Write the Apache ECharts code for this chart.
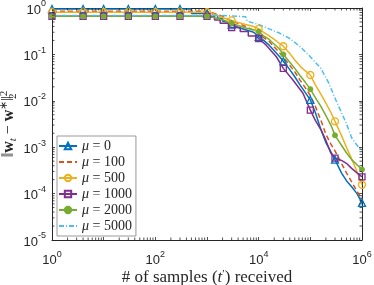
<!DOCTYPE html>
<html><head><meta charset="utf-8">
<script src="https://cdn.jsdelivr.net/npm/echarts@6/dist/echarts.min.js"></script>
<style>html,body{margin:0;padding:0;background:#fff}#c{width:374px;height:285px}</style>
</head><body><div id="c"></div>
<script>
// ---- data ----
const legendNames = ['μ = 0', 'μ = 100', 'μ = 500', 'μ = 1000', 'μ = 2000', 'μ = 5000'];
const markerSamples = [1, 4, 10, 30, 100, 300, 1000, 3000, 10000, 30000, 100000, 300000, 1000000];
const xTickLabels = ['10^0', '10^2', '10^4', '10^6'];

const t_mu0 = [1,4,10,30,100,300,500,500,1000,1250,1250,1600,1600,2000,2000,2500,3000,4000,5600,8000,10000,12500,16000,20000,25000,30000,40000,50000,63000,80000,100000,125000,160000,200000,250000,300000,400000,500000,630000,800000,1000000];
const v_mu0 = [0.95,0.95,0.95,0.95,0.95,0.95,0.95,0.76,0.76,0.76,0.69,0.69,0.60,0.60,0.52,0.50,0.44,0.38,0.34,0.30,0.24,0.20,0.158,0.12,0.091,0.071,0.047,0.033,0.022,0.015,0.0105,0.0056,0.0024,0.00126,0.00079,0.00054,0.00028,0.00019,0.00014,0.0001,0.000063];

const t_mu100 = [1,1000,1250,2000,3000,4000,5600,8000,10000,12500,16000,20000,25000,30000,40000,50000,63000,80000,100000,125000,160000,200000,250000,300000,400000,500000,630000,800000,1000000];
const v_mu100 = [0.85,0.85,0.79,0.66,0.52,0.47,0.40,0.33,0.28,0.23,0.19,0.145,0.11,0.087,0.058,0.042,0.028,0.019,0.013,0.0076,0.0038,0.0019,0.00117,0.00083,0.00045,0.00028,0.00018,0.000112,0.000076];

const t_mu500 = [1,4,10,30,100,300,1000,1250,1600,2200,3000,4000,5600,8000,10000,12500,16000,20000,25000,30000,40000,50000,63000,80000,100000,125000,160000,200000,250000,300000,400000,500000,630000,800000,1000000];
const v_mu500 = [0.81,0.81,0.81,0.81,0.81,0.81,0.81,0.76,0.69,0.60,0.54,0.49,0.44,0.40,0.355,0.30,0.25,0.21,0.174,0.15,0.105,0.076,0.056,0.044,0.036,0.022,0.014,0.0089,0.0056,0.0036,0.0018,0.001,0.00056,0.0003,0.000155];

const t_mu1000 = [1,4,10,30,100,300,1000,1400,1400,1800,1800,2600,2600,3000,4400,4400,6300,6300,8500,10000,14000,22000,30000,46000,72000,100000,125000,160000,200000,250000,300000,400000,500000,630000,800000,1000000];
const v_mu1000 = [0.66,0.66,0.66,0.66,0.66,0.66,0.66,0.66,0.55,0.55,0.47,0.47,0.40,0.38,0.38,0.31,0.31,0.25,0.25,0.22,0.158,0.089,0.05,0.028,0.0145,0.0063,0.0038,0.0024,0.0014,0.00074,0.00058,0.00052,0.00045,0.00035,0.00028,0.00023];

const t_mu2000 = [1,4,10,30,100,300,1000,1250,2000,3000,4000,5600,8000,10000,12500,16000,20000,25000,30000,40000,50000,63000,80000,100000,125000,160000,200000,250000,300000,400000,500000,630000,800000,1000000];
const v_mu2000 = [0.66,0.66,0.66,0.66,0.66,0.66,0.66,0.63,0.56,0.47,0.42,0.37,0.34,0.31,0.25,0.21,0.166,0.132,0.10,0.068,0.05,0.035,0.025,0.0178,0.0117,0.0076,0.0048,0.003,0.0018,0.0011,0.00076,0.00054,0.00042,0.00033];

const t_mu5000 = [1,2000,2000,5600,6000,10000,16000,25000,40000,63000,100000,160000,224000,316000,400000,500000,630000,800000,1000000];
const v_mu5000 = [0.69,0.69,0.65,0.65,0.52,0.44,0.355,0.29,0.22,0.148,0.089,0.05,0.025,0.01,0.0056,0.0032,0.0016,0.0011,0.00083];

// ---- styling ----
const FG = '#262626';
const SERIF = 'Liberation Serif';
const SANS = 'Liberation Sans';
const XMIN = 1, XMAX = 1e6, YMIN = 1e-5, YMAX = 1;

function buildData(ts, vs, withMarkers) {
  const used = {};
  return ts.map((t, i) => {
    const item = { value: [t, vs[i]] };
    if (!withMarkers || markerSamples.indexOf(t) < 0 || used[t]) item.symbol = 'none';
    else used[t] = true;
    return item;
  });
}

const seriesDefs = [
  { name: legendNames[0], t: t_mu0, v: v_mu0, color: '#0072BD', symbol: 'triangle', size: 7, hollow: true, dash: 'solid' },
  { name: legendNames[1], t: t_mu100, v: v_mu100, color: '#D95319', symbol: 'none', dash: [5, 3] },
  { name: legendNames[2], t: t_mu500, v: v_mu500, color: '#EDB120', symbol: 'circle', size: 7, hollow: true, dash: 'solid' },
  { name: legendNames[3], t: t_mu1000, v: v_mu1000, color: '#7E2F8E', symbol: 'rect', size: 6, hollow: true, dash: 'solid' },
  { name: legendNames[4], t: t_mu2000, v: v_mu2000, color: '#77AC30', symbol: 'circle', size: 5, hollow: false, dash: 'solid' },
  { name: legendNames[5], t: t_mu5000, v: v_mu5000, color: '#4DBEEE', symbol: 'none', dash: [5, 2, 1, 2] }
];

const series = seriesDefs.map(d => ({
  name: d.name,
  type: 'line',
  data: buildData(d.t, d.v, d.symbol !== 'none'),
  symbol: d.symbol,
  symbolSize: d.size || 6,
  showSymbol: d.symbol !== 'none',
  lineStyle: { color: d.color, width: 1.5, type: d.dash },
  itemStyle: d.symbol === 'none' ? { color: d.color } :
    (d.hollow ? { color: 'rgba(255,255,255,0)', borderColor: d.color, borderWidth: 1.3 }
              : { color: d.color, borderColor: d.color, borderWidth: 1 }),
  color: d.color,
  animation: false,
  silent: true,
  emphasis: { disabled: true }
}));

// minor ticks of the log axes (axis decoration)
const xMinor = [];
for (let e = 0; e < 6; e++) for (let k = 2; k <= 9; k++) xMinor.push(k * Math.pow(10, e));
const yMinor = [];
for (let e = -5; e < 0; e++) for (let k = 2; k <= 9; k++) yMinor.push(k * Math.pow(10, e));
const TL = 2.5;
series.push({
  type: 'custom', silent: true, animation: false, z: 5,
  data: xMinor.map(v => [v, 1]),
  encode: { x: 0, y: 1 },
  renderItem: function (p, api) {
    const v = api.value(0);
    const b = api.coord([v, YMIN]), t = api.coord([v, YMAX]);
    return { type: 'group', children: [
      { type: 'line', shape: { x1: b[0], y1: b[1], x2: b[0], y2: b[1] - TL }, style: { stroke: FG, lineWidth: 0.8 } },
      { type: 'line', shape: { x1: t[0], y1: t[1], x2: t[0], y2: t[1] + TL }, style: { stroke: FG, lineWidth: 0.8 } }
    ] };
  }
});
series.push({
  type: 'custom', silent: true, animation: false, z: 5,
  data: yMinor.map(v => [1, v]),
  encode: { x: 0, y: 1 },
  renderItem: function (p, api) {
    const v = api.value(1);
    const l = api.coord([XMIN, v]), r = api.coord([XMAX, v]);
    return { type: 'group', children: [
      { type: 'line', shape: { x1: l[0], y1: l[1], x2: l[0] + TL, y2: l[1] }, style: { stroke: FG, lineWidth: 0.8 } },
      { type: 'line', shape: { x1: r[0], y1: r[1], x2: r[0] - TL, y2: r[1] }, style: { stroke: FG, lineWidth: 0.8 } }
    ] };
  }
});

const labelRich = {
  b: { fontFamily: SANS, fontSize: 13, lineHeight: 17, color: FG, verticalAlign: 'bottom' },
  s: { fontFamily: SANS, fontSize: 9, lineHeight: 9, color: FG, verticalAlign: 'top' }
};
function powLabel(value) {
  const e = Math.round(Math.log10(value));
  return '{b|10}{s|' + (e < 0 ? '-' + (-e) : e) + '}';
}

const axisCommon = {
  type: 'log', logBase: 10, interval: 1,
  nameMoveOverlap: false,
  axisLine: { show: true, lineStyle: { color: FG, width: 1 } },
  axisTick: { show: true, inside: true, length: 3, lineStyle: { color: FG, width: 0.8 } },
  splitLine: { show: false }
};

const noMarker = { color: 'rgba(0,0,0,0)', borderColor: 'rgba(0,0,0,0)', borderWidth: 0 };
const legendData = legendNames.map((n, i) => seriesDefs[i].symbol === 'none' ? { name: n, itemStyle: noMarker } : { name: n });

const option = {
  animation: false,
  backgroundColor: '#fff',
  grid: { left: 52, right: 12, top: 8, bottom: 45, containLabel: false, outerBoundsMode: 'none' },
  xAxis: [
    Object.assign({}, axisCommon, {
      min: XMIN, max: XMAX, position: 'bottom',
      axisLabel: {
        margin: 10,
        formatter: function (v) {
          const s = powLabel(v);
          const e = Math.round(Math.log10(v));
          return xTickLabels.indexOf('10^' + e) >= 0 ? s : '';
        },
        rich: labelRich
      },
      name: '# of samples ({i|t}{p|′}) received',
      nameLocation: 'middle', nameGap: 29,
      nameTextStyle: {
        fontFamily: SERIF, fontSize: 17, color: FG,
        rich: {
          i: { fontFamily: SERIF, fontStyle: 'italic', fontSize: 17, color: FG },
          p: { fontFamily: SERIF, fontSize: 11, color: FG, verticalAlign: 'top', lineHeight: 11 }
        }
      }
    }),
    Object.assign({}, axisCommon, {
      min: XMIN, max: XMAX, position: 'top', axisLabel: { show: false }
    })
  ],
  yAxis: [
    Object.assign({}, axisCommon, {
      min: YMIN, max: YMAX, position: 'left',
      axisLabel: { margin: 6, formatter: powLabel, rich: labelRich },
      name: '{n|‖}{b|w}{sb|t}{n| − }{b|w}{sp|∗}{n|‖}{sb2|2}{sp|2}',
      nameLocation: 'middle', nameGap: 33, nameRotate: 90,
      nameTextStyle: {
        color: FG,
        rich: {
          n: { fontFamily: SERIF, fontSize: 16, lineHeight: 20, color: FG },
          b: { fontFamily: SERIF, fontSize: 16, fontWeight: 'bold', lineHeight: 20, color: FG },
          sb: { fontFamily: SERIF, fontSize: 11, fontStyle: 'italic', lineHeight: 10, color: FG, verticalAlign: 'bottom' },
          sb2: { fontFamily: SERIF, fontSize: 11, lineHeight: 10, color: FG, verticalAlign: 'bottom', width: 0 },
          sp: { fontFamily: SERIF, fontSize: 11, lineHeight: 10, color: FG, verticalAlign: 'top' }
        }
      }
    }),
    Object.assign({}, axisCommon, {
      min: YMIN, max: YMAX, position: 'right', axisLabel: { show: false }
    })
  ],
  legend: {
    data: legendData,
    orient: 'vertical',
    left: 57, top: 136,
    padding: [3, 4, 3, 1],
    itemWidth: 18, itemHeight: 8, itemGap: 2,
    backgroundColor: '#fff',
    borderColor: '#808080', borderWidth: 0.8,
    selectedMode: false,
    formatter: function (name) { return '{i|μ}{r|' + name.slice(1) + '}'; },
    textStyle: {
      fontFamily: SERIF, fontSize: 14, lineHeight: 14, color: FG,
      rich: {
        i: { fontFamily: SERIF, fontStyle: 'italic', fontSize: 14, lineHeight: 14, color: FG },
        r: { fontFamily: SERIF, fontSize: 14, lineHeight: 14, color: FG }
      }
    }
  },
  series: series
};

const chart = echarts.init(document.getElementById('c'), null, { renderer: 'canvas' });
chart.setOption(option);
</script>
</body></html>
